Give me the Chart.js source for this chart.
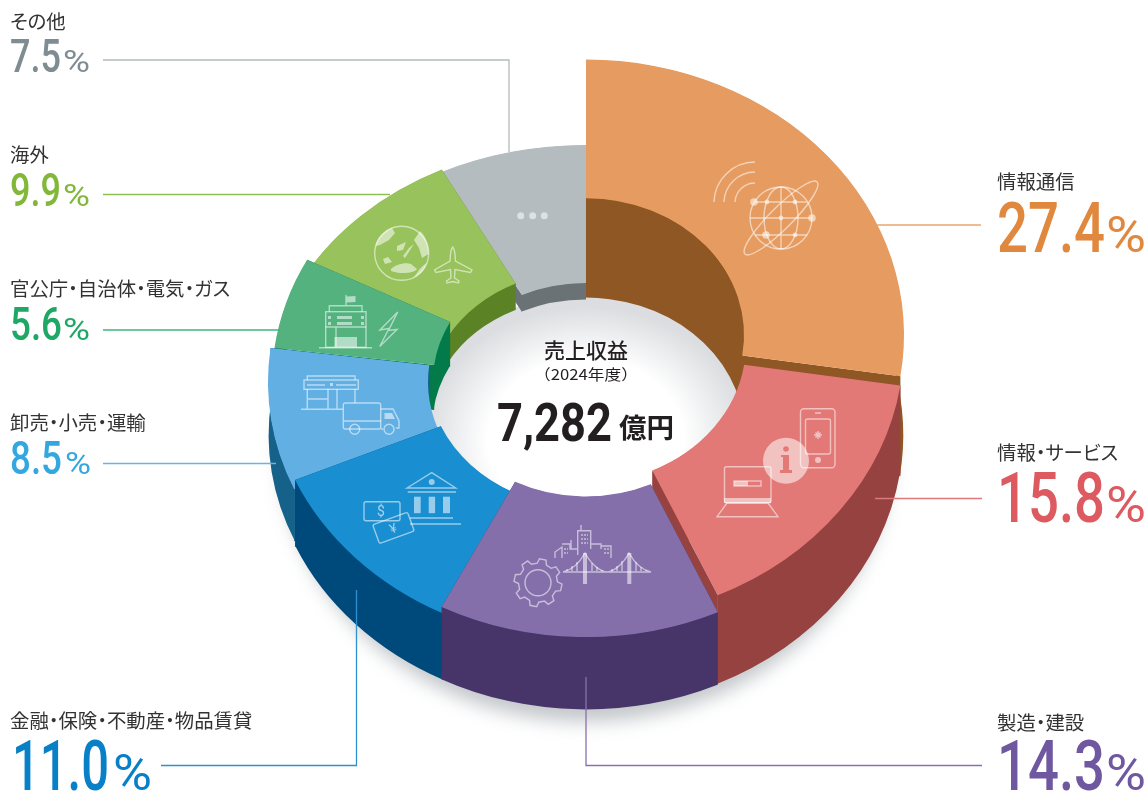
<!DOCTYPE html>
<html lang="ja">
<head>
<meta charset="utf-8">
<title>売上収益</title>
<style>
  html, body { margin: 0; padding: 0; background: #fff; }
  #wrap { position: relative; width: 1148px; height: 791px; overflow: hidden; }
  #donut { position: absolute; left: 0; top: 0; }
  #overlay { position: absolute; left: 0; top: 0; }
  .cat { font-family: "Noto Sans CJK JP", sans-serif; font-size: 19.4px; fill: #333; font-feature-settings: "palt"; }
  .num { font-family: Roboto, sans-serif; font-weight: 500; }
  .pct { font-family: Roboto, sans-serif; font-weight: 400; }
  .icon { fill: none; stroke: rgba(255,255,255,.55); stroke-width: 1.4; }
  .solid { fill: rgba(255,255,255,.55); stroke: none; }
</style>
</head>
<body>
<div id="wrap">
  <canvas id="donut" width="1148" height="791"></canvas>
  <svg id="overlay" width="1148" height="791" xmlns="http://www.w3.org/2000/svg"></svg>
</div>
<script src="https://cdn.jsdelivr.net/npm/chart.js@4/dist/chart.umd.min.js"></script>
<script>
const categories = ['情報通信', '情報・サービス', '製造・建設', '金融・保険・不動産・物品賃貸', '卸売・小売・運輸', '官公庁・自治体・電気・ガス', '海外', 'その他'];
const shares = [27.4, 15.8, 14.3, 11.0, 8.5, 5.6, 9.9, 7.5];
const totalLabel = '7,282';

const faceColors = ['#E69C60', '#E27976', '#846FAB', '#198ED0', '#62AFE3', '#53B27E', '#98C25C', '#B4BCC0'];
const wallColors = ['#8F5723', '#964241', '#47356A', '#004A7B', '#156189', '#037A4A', '#5B8326', '#6A7276'];
const textColors = ['#E0883E', '#DC5A60', '#6F58A0', '#0880C8', '#33A8E0', '#1FA765', '#82B83A', '#7F8C92'];
const lineColors = ['#E9A66B', '#E07A7A', '#8A70AD', '#2F8FD0', '#6CB4E0', '#3FB57A', '#8CC152', '#B4BBBE'];

// each slice sits at its own height: [centre y, outer r, inner r, y squash, wall depth]
const sliceLayout = [
  [335, 318, 158, 0.866, 100],
  [344, 318, 160, 0.868, 89],
  [361, 318, 156, 0.868, 73],
  [373, 317, 158, 0.85, 67],
  [382, 318, 158, 0.85, 52],
  [381, 314, 153, 0.84, 45],
  [392, 318, 155, 0.785, 27],
  [393, 318, 141, 0.78, 17],
];
const paintOrder = [7, 6, 0, 5, 4, 3, 1, 2];
const CENTER_X = 586;

// label position: [name x, name baseline, number x, number baseline, number width, pct x, pct width, big]
const labelLayout = [
  [997, 189, 997, 252, 108, 1106, 40, true],
  [997, 460, 997, 522, 108, 1106, 40, true],
  [997, 730, 997, 790, 108, 1106, 40, true],
  [10, 728, 12, 790, 97, 113, 39, true],
  [10, 430, 10, 474, 52, 65, 26, false],
  [10, 296, 10, 340, 52, 63, 27, false],
  [10, 162, 10, 206, 51, 63, 27, false],
  [10, 29, 10, 72, 51, 63, 27, false],
];
const leaderLines = [
  '877,225 981,225',
  '875,498.5 982,498.5',
  '586,677 586,765.5 982,765.5',
  '161,765.5 356.5,765.5 356.5,590',
  '103,463.5 276,463.5',
  '103,330 280,330',
  '103,194.5 390,194.5',
  '103,60 509,60 509,152',
];

function drawWall(ctx, arc, layout, color) {
  const [cy, outer, inner, k, depth] = layout;
  const a0 = arc.startAngle;
  const a1 = arc.endAngle;
  ctx.fillStyle = color;
  const band = (r) => {
    ctx.beginPath();
    ctx.ellipse(CENTER_X, cy, r, r * k, 0, a0, a1);
    ctx.ellipse(CENTER_X, cy + depth, r, r * k, 0, a1, a0, true);
    ctx.closePath();
    ctx.fill();
  };
  // pulled in a hair so the dark wall does not fringe the face edge
  band(outer - 0.7);
  band(inner + 0.7);
  [a0, a1].forEach((a) => {
    const c = Math.cos(a);
    const s = Math.sin(a);
    ctx.beginPath();
    ctx.moveTo(CENTER_X + inner * c, cy + inner * k * s);
    ctx.lineTo(CENTER_X + outer * c, cy + outer * k * s);
    ctx.lineTo(CENTER_X + outer * c, cy + outer * k * s + depth);
    ctx.lineTo(CENTER_X + inner * c, cy + inner * k * s + depth);
    ctx.closePath();
    ctx.fill();
  });
}

const pseudo3d = {
  id: 'pseudo3d',
  afterDatasetsUpdate(chart) {
    chart.getDatasetMeta(0).data.forEach((arc, i) => {
      arc.x = 0;
      arc.y = 0;
      arc.outerRadius = sliceLayout[i][1];
      arc.innerRadius = sliceLayout[i][2];
    });
  },
  beforeDatasetsDraw(chart) {
    const { ctx } = chart;
    const arcs = chart.getDatasetMeta(0).data;

    // soft floor shadow
    ctx.save();
    ctx.beginPath();
    ctx.rect(0, 400, 1148, 391);
    ctx.clip();
    ctx.filter = 'blur(9px)';
    ctx.fillStyle = '#C4C8CB';
    ctx.beginPath();
    ctx.ellipse(CENTER_X, 446, 306, 276, 0, 0, Math.PI * 2);
    ctx.fill();
    ctx.restore();

    // white well with grey shade at the far side
    ctx.save();
    ctx.translate(CENTER_X, 440);
    ctx.scale(1, 145 / 175);
    const well = ctx.createRadialGradient(0, 0, 0, 0, 0, 175);
    well.addColorStop(0, '#fff');
    well.addColorStop(0.56, '#fff');
    well.addColorStop(0.92, '#DBDDE0');
    well.addColorStop(1, '#DBDDE0');
    ctx.fillStyle = well;
    ctx.beginPath();
    ctx.arc(0, 0, 175, 0, Math.PI * 2);
    ctx.fill();
    ctx.restore();

    paintOrder.forEach((i) => {
      drawWall(ctx, arcs[i], sliceLayout[i], wallColors[i]);
      ctx.save();
      ctx.translate(CENTER_X, sliceLayout[i][0]);
      ctx.scale(1, sliceLayout[i][3]);
      arcs[i].draw(ctx, chart.chartArea);
      ctx.restore();
    });
    return false;
  },
};

new Chart(document.getElementById('donut'), {
  type: 'doughnut',
  data: {
    labels: categories,
    datasets: [{ data: shares, backgroundColor: faceColors, borderWidth: 0 }],
  },
  options: {
    responsive: false,
    animation: false,
    events: [],
    plugins: { legend: { display: false }, tooltip: { enabled: false } },
  },
  plugins: [pseudo3d],
});

// ---- labels, leaders and icon line art ----
function gearPath(cx, cy, r1, r2, teeth) {
  const pts = [];
  for (let i = 0; i < teeth; i++) {
    const a = (i / teeth) * Math.PI * 2 + 0.2;
    const w = Math.PI / teeth;
    pts.push([a - w * 0.62, r1], [a - w * 0.36, r2], [a + w * 0.36, r2], [a + w * 0.62, r1]);
  }
  return 'M' + pts.map(([a, r]) => `${(cx + r * Math.cos(a)).toFixed(1)} ${(cy + r * Math.sin(a)).toFixed(1)}`).join('L') + 'Z';
}

const iconsSvg = `
<g class="icon" stroke-width="1.4">
  <path d="M714 202A41 41 0 0 1 755 162M724 202A31 31 0 0 1 755 172M735 202A20 20 0 0 1 755 183"/>
  <circle cx="781" cy="218" r="31"/><ellipse cx="781" cy="218" rx="17" ry="31"/>
  <ellipse cx="781" cy="218" rx="51" ry="11" transform="rotate(-45 781 218)"/>
  <path d="M755 202H807M750 218H812M755 235H807M781 187V249"/>
</g>
<g class="solid">
  <circle cx="754" cy="202" r="3.8"/><circle cx="766" cy="235" r="3.8"/><circle cx="812" cy="218" r="3.8"/>
  <circle cx="767" cy="202" r="2.4"/><circle cx="795" cy="202" r="2.4"/><circle cx="781" cy="218" r="2.4"/><circle cx="795" cy="235" r="2.4"/>
</g>

<g class="icon">
  <rect x="800.5" y="408.7" width="34.5" height="59" rx="3.5"/><rect x="805.5" y="419" width="25" height="35" rx="2"/>
  <path d="M815 413H821M818 431V439M814 435H822M815.5 432.5L820.5 437.5M820.5 432.5L815.5 437.5"/>
  <rect x="724.5" y="466.7" width="46.5" height="36" rx="2"/>
  <path d="M717 516.7H778L768 503H727Z"/><rect x="734" y="481" width="27" height="5"/>
</g>
<g class="solid">
  <circle cx="818" cy="460" r="3"/><circle cx="786" cy="460.7" r="23"/>
  <rect x="724" y="498" width="47" height="5"/><rect x="734" y="481" width="14" height="5"/>
</g>
<g fill="#E27976">
  <circle cx="786" cy="449" r="2.8"/>
  <path d="M781 455H789V470H792V473H780V470H783V457H781Z"/>
</g>

<g class="icon">
  <path d="${gearPath(538, 582.7, 19.5, 24, 8)}"/><circle cx="538" cy="582.7" r="13"/>
  <path d="M563 572H651M563 572C572 570 580 562 585 553C592 566 602 572 607 572C612 572 622 566 629 553C634 562 642 570 651 572"/>
  <path d="M567 571V569M572 571V566M577 571V562M592 571V563M597 571V567M602 571V570M612 571V569M617 571V566M622 571V561M636 571V562M641 571V567M646 571V570"/>
  <path d="M577.7 555V530.7H590.7V549M581 530.7V525M590.7 544H601V549M601 546H611V558M601 546V549M555 558V552L562 547V558M562 544H570V549H577.7M571 540V549"/>
  <path d="M581 535H588M581 539H588M581 543H588M604 549H609M604 553H609M564 549H568M564 553H568" stroke-dasharray="2 1"/>
</g>
<g class="solid"><rect x="583" y="553" width="4" height="31"/><rect x="627.3" y="553" width="4" height="31"/></g>

<g class="icon">
  <path d="M407 488L431.7 472.7L455.7 488ZM407.7 492H456M410 518H453M410 524H461"/>
  <rect x="364" y="501.7" width="36" height="19" rx="2"/>
  <rect x="375" y="518" width="37" height="20" rx="2" transform="rotate(-20 393 528)"/>
</g>
<g class="solid">
  <circle cx="431.7" cy="482" r="3"/>
  <rect x="414" y="496.7" width="6.7" height="16.5"/><rect x="428.7" y="496.7" width="6.4" height="16.5"/><rect x="443" y="496.7" width="7" height="16.5"/>
</g>
<text x="381" y="516" text-anchor="middle" font-family="Roboto" font-size="14" fill="rgba(255,255,255,.6)">$</text>
<text x="393" y="533" text-anchor="middle" font-family="Roboto" font-size="13" fill="rgba(255,255,255,.6)" transform="rotate(-20 393 528)">¥</text>

<g class="icon">
  <rect x="304" y="380" width="54.3" height="9.3"/><path d="M307.3 380V376H355V380M307 385H325M336 385H356"/>
  <path d="M307.3 389V409.3M301 409.3H343M307.3 399H328M328 389V409M337 389V409M355 389V403"/>
  <rect x="343.3" y="403" width="37.4" height="26" rx="2"/>
  <path d="M344 421H381M380.7 409H393L399 420.7V428H396M383 429H381"/>
  <circle cx="354.7" cy="429.3" r="5"/><circle cx="389" cy="429.3" r="5"/>
</g>
<g class="solid"><path d="M384.5 413H392L395 419H384.5Z"/><rect x="330" y="383" width="3" height="3"/></g>

<g class="icon">
  <rect x="325.7" y="311.7" width="40.3" height="35.6"/>
  <path d="M329.3 311.7V305.7H362V311.7M346 305.7V295M319 347.7H372M325.7 327H366M336 327V347"/>
  <path d="M397.7 312L380 330L389 328.5L379.7 346.5L397 329.5L388.5 330.5Z"/>
</g>
<g class="solid">
  <path d="M346.5 296.5L355.5 296V302L346.5 302.5Z"/>
  <rect x="334.5" y="337" width="22.5" height="10"/>
  <path d="M337 316h15v3h-15zM337 322h15v3h-15zM328 316h3v3h-3zM361 316h3v3h-3zM328 322h3v3h-3zM361 322h3v3h-3z"/>
</g>

<g class="icon">
  <circle cx="401.7" cy="253.3" r="27"/>
  <path d="M452.7 247C450 250 450.5 258 450 261L434.5 270L436 272.5L450.5 269.5L451 278L446.5 281L447 283L452.7 281.5L458.5 283L459 281L454.5 278L455 269.5L470.5 272.5L472 270L455.5 261C455 258 455.5 250 452.7 247Z"/>
</g>
<g class="solid">
  <path d="M375.5 246C378 235 386 230 392 228L395 233L389 240L380 245Z"/>
  <path d="M420 231C426 236 429 246 428.5 254L422 258L419 248L414 240Z"/>
  <path d="M391 269C396 264 406 262 411 264L417 269C414 274 398 274 391 271Z"/>
  <path d="M419 270C423 265 426 264 427 262C425 270 420 275 414 277Z"/>
  <path d="M397 246L406 242L403 250L397 251ZM409 248L414 244L405 258L403 256ZM383 259L388 257L392 262L385 264Z"/>
</g>
<g fill="rgba(255,255,255,.55)">
  <circle cx="520.7" cy="215.7" r="3.5"/><circle cx="532.7" cy="215.7" r="3.5"/><circle cx="544.3" cy="215.7" r="3.5"/>
</g>`;

function buildOverlay() {
  let out = '';
  leaderLines.forEach((pts, i) => {
    out += `<polyline points="${pts}" fill="none" stroke="${lineColors[i]}" stroke-width="1.3"/>`;
  });
  out += iconsSvg;
  categories.forEach((name, i) => {
    const [nx, ny, vx, vy, vw, px, pw, big] = labelLayout[i];
    out += `<text class="cat" x="${nx}" y="${ny}">${name}</text>`;
    out += `<text class="num" x="${vx}" y="${vy}" font-size="${big ? 70 : 46}" fill="${textColors[i]}" textLength="${vw}" lengthAdjust="spacingAndGlyphs">${shares[i].toFixed(1)}</text>`;
    out += `<text class="pct" x="${px}" y="${vy}" font-size="${big ? 50 : 31}" fill="${textColors[i]}" textLength="${pw}" lengthAdjust="spacingAndGlyphs">%</text>`;
  });
  out += `<text x="586" y="358" text-anchor="middle" font-family="Noto Sans CJK JP" font-weight="500" font-size="21" fill="#231F20">売上収益</text>`;
  out += `<text x="586" y="380" text-anchor="middle" font-family="Noto Sans CJK JP" font-size="15" fill="#231F20" textLength="104" lengthAdjust="spacingAndGlyphs">（2024年度）</text>`;
  out += `<text x="497" y="441" font-family="Roboto" font-weight="700" font-size="54" fill="#231F20" textLength="115" lengthAdjust="spacingAndGlyphs">${totalLabel}</text>`;
  out += `<text x="619" y="438" font-family="Noto Sans CJK JP" font-weight="700" font-size="27.5" fill="#231F20">億円</text>`;
  document.getElementById('overlay').innerHTML = out;
}
buildOverlay();
</script>
</body>
</html>
